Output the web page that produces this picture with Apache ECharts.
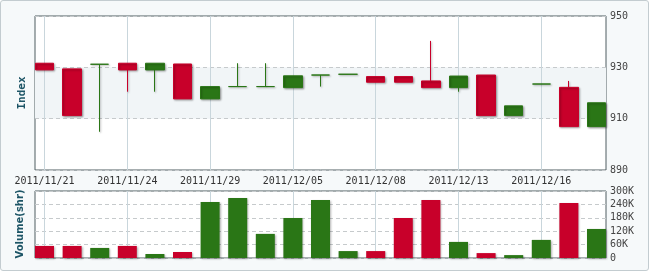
<!DOCTYPE html>
<html><head><meta charset="utf-8">
<script src="https://cdn.jsdelivr.net/npm/echarts@6/dist/echarts.min.js"></script>
<style>
html,body{margin:0;padding:0;background:#fff;}
#frame{position:absolute;left:0;top:0;width:647px;height:269px;border:1px solid #c3ccd0;border-radius:3px;background:#f6f9fa;}
#chart{position:absolute;left:0;top:0;width:650px;height:272px;}
</style></head><body><div id="frame"></div><div id="chart"></div>
<script>
var dates = ['2011/11/21','2011/11/22','2011/11/23','2011/11/24','2011/11/25','2011/11/28','2011/11/29',
  '2011/11/30','2011/12/02','2011/12/05','2011/12/06','2011/12/07','2011/12/08','2011/12/09',
  '2011/12/12','2011/12/13','2011/12/14','2011/12/15','2011/12/16','2011/12/19','2011/12/20'];
var openV  = [931.6, 929.4, 931.2, 931.6, 929.0, 931.3, 917.7, 922.5, 922.5, 922.1, 927.0, 927.3, 926.4, 926.4, 924.7, 922.1, 927.0, 911.2, 923.5, 922.2, 906.9];
var closeV = [929.0, 911.2, 931.2, 929.0, 931.6, 917.7, 922.5, 922.5, 922.5, 926.7, 927.0, 927.3, 924.2, 924.2, 922.1, 926.6, 911.2, 915.0, 923.5, 906.9, 916.2];
var lowV   = [929.0, 911.2, 904.9, 920.5, 920.5, 917.7, 917.7, 922.5, 922.5, 922.1, 922.5, 927.3, 924.2, 924.2, 922.1, 920.5, 911.2, 911.2, 923.5, 906.9, 906.9];
var highV  = [931.6, 929.4, 931.2, 931.6, 931.6, 931.3, 922.5, 931.6, 931.6, 926.7, 927.0, 927.3, 926.4, 926.4, 940.3, 926.6, 927.0, 915.0, 923.5, 924.7, 916.2];
var volume = [54000, 54000, 45000, 54000, 18000, 27000, 251000, 269000, 108000, 179000, 260000, 31000, 31000, 179000, 260000, 72000, 22000, 13000, 81000, 246000, 130000];
var labelIdx = [0, 3, 6, 9, 12, 15, 18];
var priceTicks = [890, 910, 930, 950];

var GREEN = '#2a7616', RED = '#c8002a';
function isUp(i){
  if (closeV[i] > openV[i]) return true;
  if (closeV[i] < openV[i]) return false;
  return i === 0 || closeV[i] >= closeV[i-1];
}
var chart = echarts.init(document.getElementById('chart'));
var xMin = -0.345, xMax = 20.345;
var mono = 'DejaVu Sans Mono';
var shadow = {shadowBlur: 2, shadowColor: 'rgba(0,0,0,0.3)', shadowOffsetX: 1, shadowOffsetY: 1};
chart.setOption({
  animation: false,
  backgroundColor: 'transparent',
  grid: [
    {left: 35, top: 16, width: 571, height: 154, show: true, backgroundColor: '#fff', borderColor: '#4f5c60', borderWidth: 1},
    {left: 35, top: 191, width: 571, height: 67, show: true, backgroundColor: '#fff', borderColor: '#4f5c60', borderWidth: 1}
  ],
  xAxis: [0, 1].map(function(g){
    return {
      gridIndex: g, type: 'value', min: xMin, max: xMax,
      axisLine: {show: false},
      axisTick: {show: false, customValues: labelIdx},
      axisLabel: {show: g === 0, customValues: labelIdx, margin: 6,
        formatter: function(v){ return dates[Math.round(v)] || ''; },
        fontFamily: mono, fontSize: 10, color: '#333'},
      splitLine: {show: true, lineStyle: {color: '#c9d6dc', width: 1}}
    };
  }),
  yAxis: [
    {gridIndex: 0, type: 'value', position: 'right', min: priceTicks[0], max: priceTicks[priceTicks.length-1], interval: 20,
     axisLine: {show: false}, axisTick: {show: false},
     axisLabel: {margin: 4, fontFamily: mono, fontSize: 10, color: '#444'},
     splitLine: {lineStyle: {color: '#c6cacc', type: [4, 3]}},
     splitArea: {show: true, areaStyle: {color: ['rgba(255,255,255,0)', '#f1f5f7']}}},
    {gridIndex: 1, type: 'value', position: 'right', min: 0, max: 300000, interval: 60000,
     axisLine: {show: false}, axisTick: {show: false},
     axisLabel: {margin: 4, fontFamily: mono, fontSize: 10, color: '#444',
       formatter: function(v){ return v === 0 ? '0' : (v/1000) + 'K'; }},
     splitLine: {lineStyle: {color: '#c6cacc', type: [4, 3]}}}
  ],
  series: [
    {type: 'candlestick', xAxisIndex: 0, yAxisIndex: 0, barWidth: 19,
     encode: {x: 0, y: [1, 2, 3, 4]},
     data: dates.map(function(d, i){ return [i, openV[i], closeV[i], lowV[i], highV[i]]; }),
     itemStyle: Object.assign({color: GREEN, color0: RED, borderColor: GREEN, borderColor0: RED, borderWidth: 1}, shadow)},
    {type: 'bar', xAxisIndex: 1, yAxisIndex: 1, barWidth: 19,
     data: volume.map(function(v, i){ return {value: [i, v], itemStyle: Object.assign({color: isUp(i) ? GREEN : RED}, shadow)}; })}
  ],
  graphic: [
    {type: 'text', x: 22, y: 93, rotation: Math.PI/2,
     style: {text: 'Index', font: 'bold 11px "DejaVu Sans Mono"', fill: '#1d5566', align: 'center', verticalAlign: 'middle'}},
    {type: 'text', x: 20, y: 224, rotation: Math.PI/2,
     style: {text: 'Volume(shr)', font: 'bold 10px "DejaVu Sans"', fill: '#1d5566', align: 'center', verticalAlign: 'middle'}}
  ]
});
</script></body></html>
